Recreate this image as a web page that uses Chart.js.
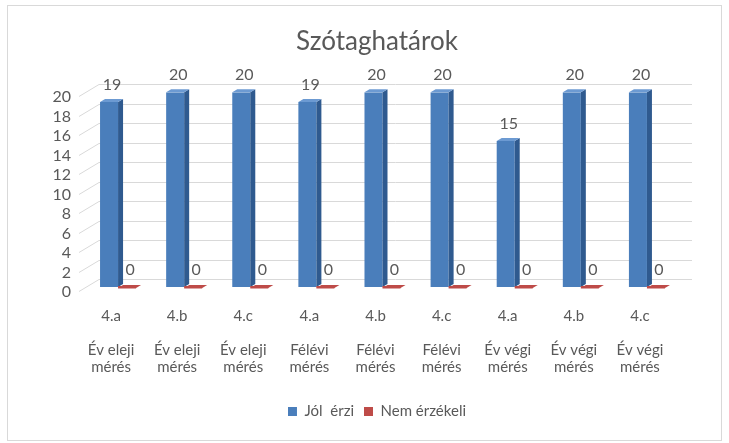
<!DOCTYPE html>
<html>
<head>
<meta charset="utf-8">
<script src="https://cdn.jsdelivr.net/npm/chart.js@4/dist/chart.umd.min.js"></script>
<style>
  html, body { margin: 0; padding: 0; background: #fff; }
  #wrap { width: 729px; height: 443px; position: relative; }
</style>
</head>
<body>
<div id="wrap"><canvas id="chart" width="729" height="443"></canvas></div>
<script>
// adatok
const groups = ['4.a', '4.b', '4.c', '4.a', '4.b', '4.c', '4.a', '4.b', '4.c'];
const phases = ['Év eleji', 'Év eleji', 'Év eleji', 'Félévi', 'Félévi', 'Félévi', 'Év végi', 'Év végi', 'Év végi'];
const jolErzi = [19, 20, 20, 19, 20, 20, 15, 20, 20];
const nemErzekeli = [0, 0, 0, 0, 0, 0, 0, 0, 0];
const yTicks = [0, 2, 4, 6, 8, 10, 12, 14, 16, 18, 20];

const labels = groups.map((g, i) => [g, '', phases[i], 'mérés']);
const textColor = '#595959';
const gridColor = '#d9d9d9';

// 3D hatás: hátfal rácsvonalai, oldal- és tetőlapok, feliratok
const depthX = 5, depthY = -3;

const threeD = {
  id: 'threeD',
  beforeDatasetsDraw(chart) {
    const ctx = chart.ctx;
    const y = chart.scales.y;
    const area = chart.chartArea;
    ctx.save();
    ctx.strokeStyle = gridColor;
    ctx.lineWidth = 1;
    yTicks.forEach(v => {
      const yf = Math.round(y.getPixelForValue(v)) + 4.5;
      const yb = yf - 12;
      ctx.beginPath();
      ctx.moveTo(area.left - 6, yf);
      ctx.lineTo(area.left + 14, yb);
      ctx.lineTo(692, yb);
      ctx.stroke();
    });
    // értékfeliratok (a hasábok eltakarhatják)
    ctx.fillStyle = textColor;
    ctx.font = '16px Lato';
    ctx.textAlign = 'center';
    ctx.textBaseline = 'middle';
    chart.data.datasets.forEach((ds, di) => {
      chart.getDatasetMeta(di).data.forEach((bar, i) => {
        ctx.fillText(String(ds.data[i]), bar.x + 3, bar.y - 17);
      });
    });
    ctx.restore();
  },
  afterDatasetsDraw(chart) {
    const ctx = chart.ctx;
    ctx.save();
    chart.data.datasets.forEach((ds, di) => {
      chart.getDatasetMeta(di).data.forEach(bar => {
        const l = bar.x - bar.width / 2, r = bar.x + bar.width / 2;
        const top = bar.y, base = bar.base;
        if (top === base) {
          // lapos (0 értékű) hasáb
          ctx.fillStyle = ds.backgroundColor;
          ctx.beginPath();
          ctx.moveTo(l, base + 1);
          ctx.lineTo(l + depthX, base + 1 + depthY);
          ctx.lineTo(r + depthX, base + 1 + depthY);
          ctx.lineTo(r, base + 1);
          ctx.closePath();
          ctx.fill();
          ctx.fillRect(l, base - 1, bar.width, 2.5);
          return;
        }
        // oldallap
        ctx.fillStyle = ds.sideColor;
        ctx.beginPath();
        ctx.moveTo(r, top);
        ctx.lineTo(r + depthX, top + depthY);
        ctx.lineTo(r + depthX, base + depthY);
        ctx.lineTo(r, base);
        ctx.closePath();
        ctx.fill();
        // tetőlap
        ctx.fillStyle = ds.topColor;
        ctx.beginPath();
        ctx.moveTo(l, top);
        ctx.lineTo(l + depthX, top + depthY);
        ctx.lineTo(r + depthX, top + depthY);
        ctx.lineTo(r, top);
        ctx.closePath();
        ctx.fill();
      });
    });
    ctx.restore();
  },
  afterDraw(chart) {
    const ctx = chart.ctx;
    ctx.save();
    ctx.strokeStyle = '#d9d9d9';
    ctx.lineWidth = 1;
    ctx.strokeRect(7.5, 5.5, 714, 435);
    ctx.restore();
  }
};

new Chart(document.getElementById('chart'), {
  type: 'bar',
  data: {
    labels: labels,
    datasets: [
      {
        label: 'Jól  érzi',
        data: jolErzi,
        backgroundColor: '#4a7ebb',
        sideColor: '#2f5a8f',
        topColor: '#6c9ad2',
        categoryPercentage: 0.545,
        barPercentage: 1
      },
      {
        label: 'Nem érzékeli',
        data: nemErzekeli,
        backgroundColor: '#be4b48',
        sideColor: '#8c3331',
        topColor: '#a8403d',
        categoryPercentage: 0.545,
        barPercentage: 1
      }
    ]
  },
  options: {
    responsive: false,
    animation: false,
    layout: { padding: { left: 25, right: 0, top: 0, bottom: 14 } },
    scales: {
      x: {
        grid: { display: false, drawTicks: false },
        border: { display: false },
        ticks: {
          color: textColor,
          font: { family: 'Lato', size: 15, lineHeight: 1.12 },
          padding: 21,
          labelOffset: -7,
          maxRotation: 0,
          autoSkip: false
        },
        afterFit: s => { s.height = 107; }
      },
      y: {
        min: 0,
        max: 20,
        grid: { display: false, drawTicks: false },
        border: { display: false },
        ticks: {
          stepSize: 2,
          autoSkip: false,
          color: textColor,
          font: { family: 'Lato', size: 16 },
          padding: 14,
          labelOffset: 5
        },
        afterFit: s => { s.width = 60; }
      },
      jobb: {
        type: 'linear',
        position: 'right',
        display: true,
        grid: { display: false, drawTicks: false },
        border: { display: false },
        ticks: { display: false },
        afterFit: s => { s.width = 49; }
      }
    },
    plugins: {
      title: {
        display: true,
        text: 'Szótaghatárok',
        color: textColor,
        font: { family: 'Lato', size: 26, weight: 'normal' },
        padding: { top: 26, bottom: 35 }
      },
      legend: {
        position: 'bottom',
        labels: {
          color: textColor,
          font: { family: 'Lato', size: 15 },
          boxWidth: 9,
          boxHeight: 9,
          padding: 10
        }
      },
      tooltip: { enabled: false }
    }
  },
  plugins: [threeD]
});
</script>
</body>
</html>
